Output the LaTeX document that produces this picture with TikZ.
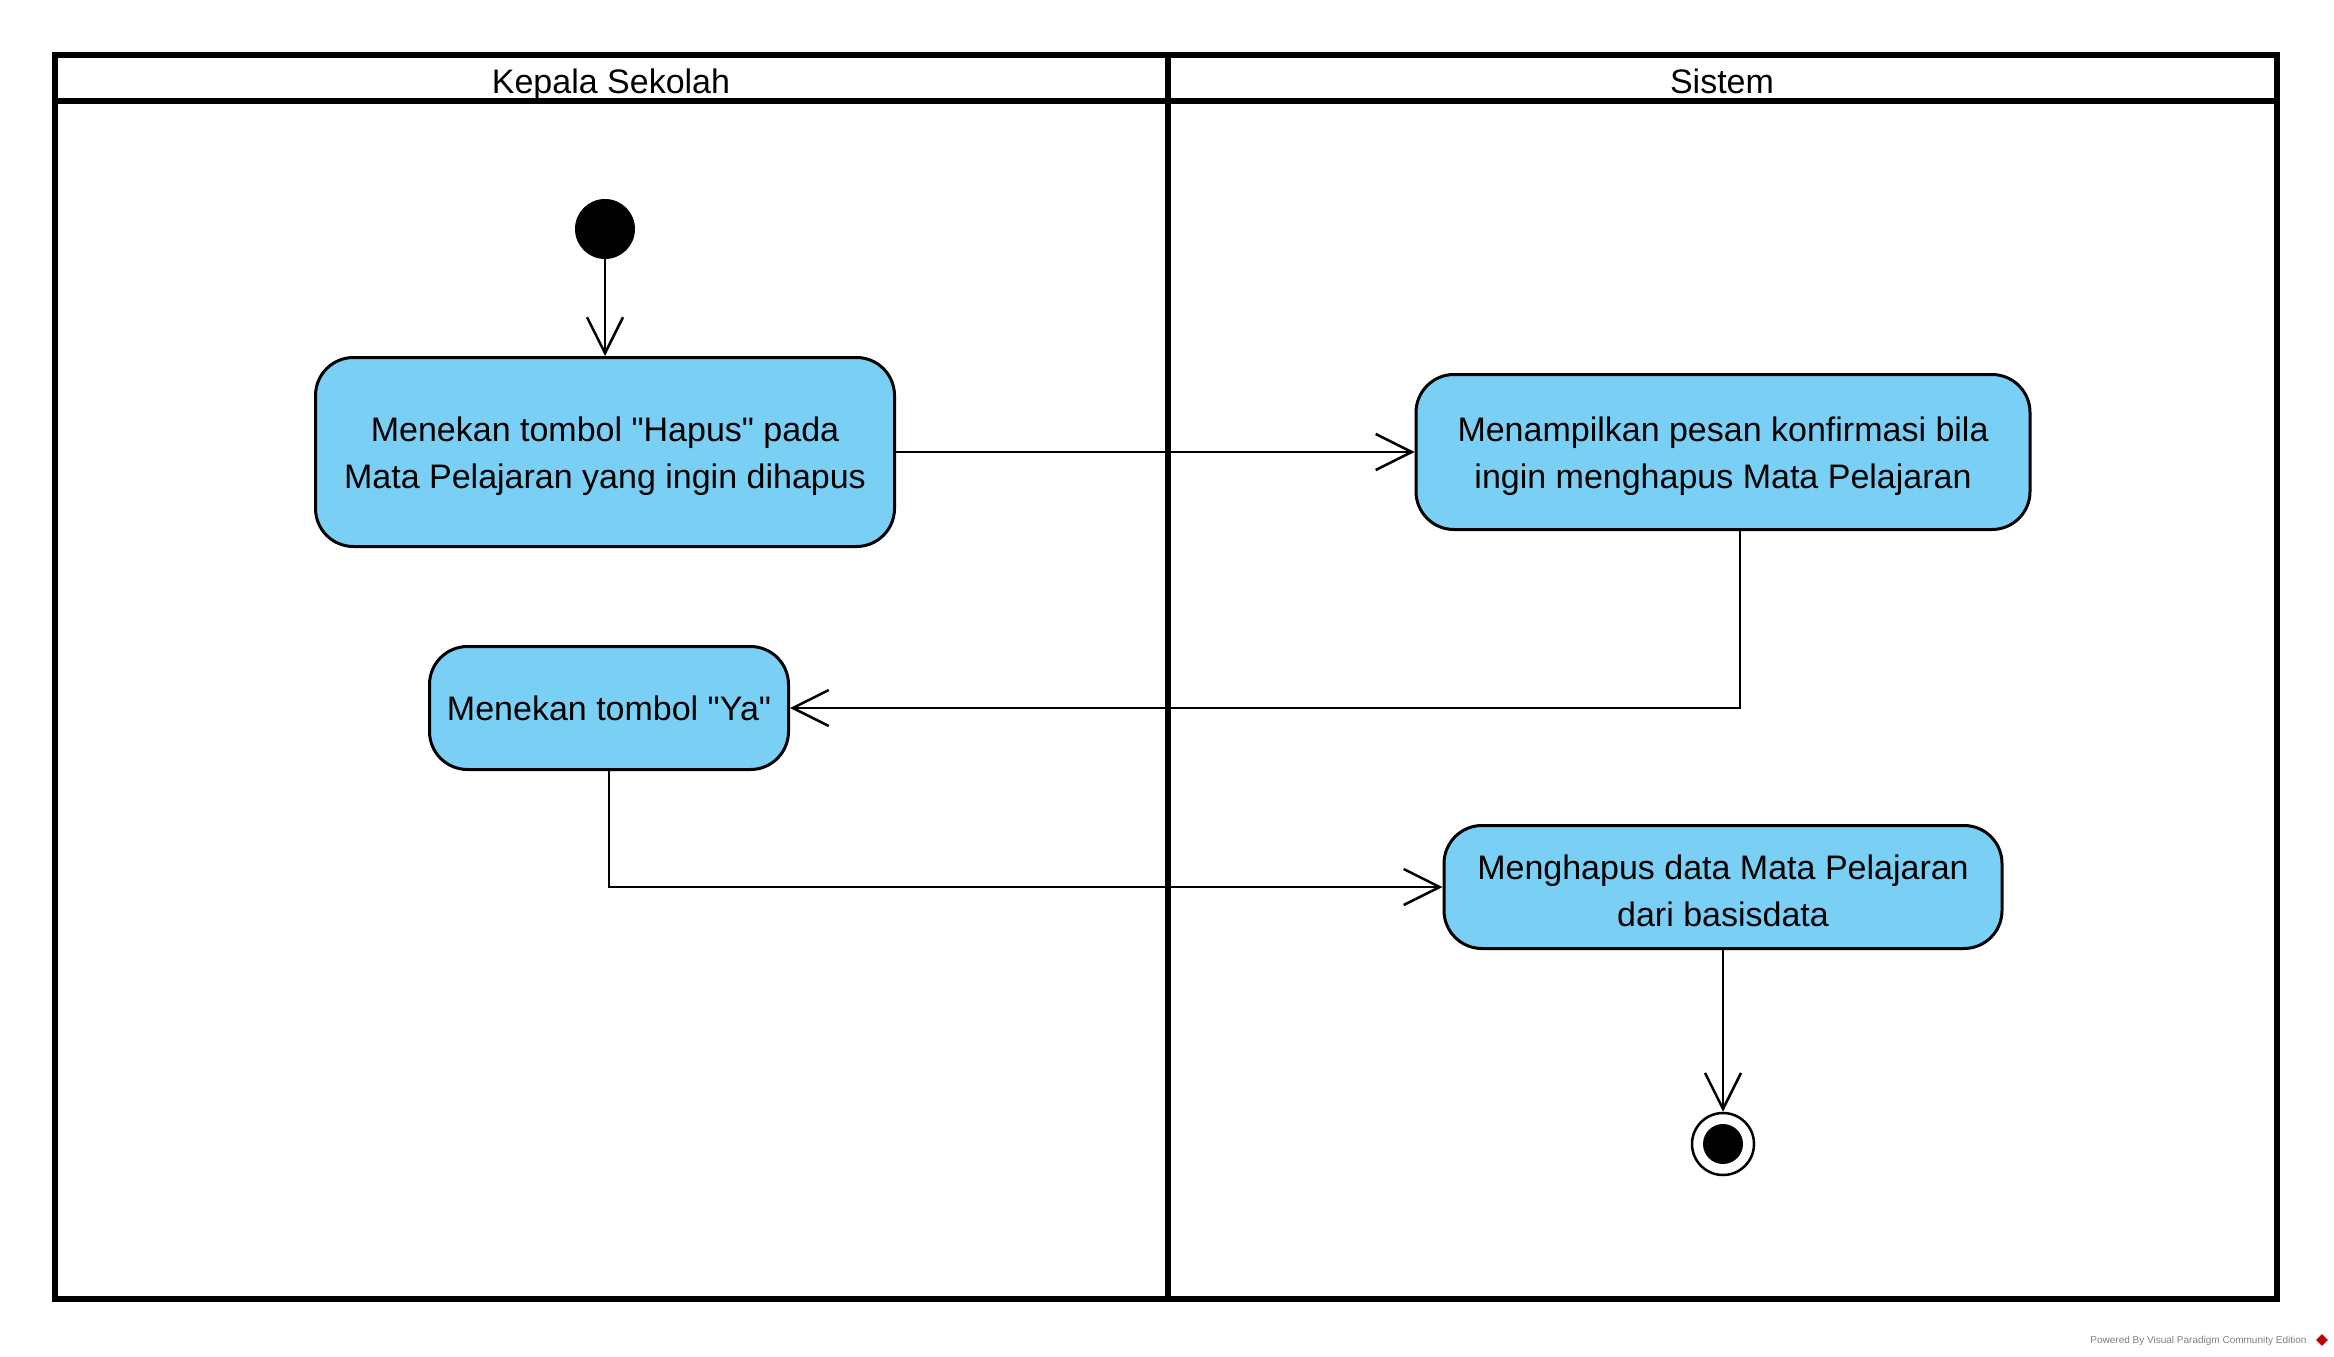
\documentclass[tikz,border=0pt]{standalone}
\usepackage{fontspec}
\setmainfont{Liberation Sans}[Ligatures=TeXOff]
\usetikzlibrary{arrows.meta,shapes.geometric}
\definecolor{actblue}{RGB}{122,207,245}

\begin{document}
\begin{tikzpicture}[x=1pt, y=-1pt,
		lane/.style={line width=6pt},
		action/.style={draw, line width=3pt, fill=actblue, rounded corners=38pt, align=center, inner sep=0pt, font=\fontsize{34}{47}\selectfont},
		flow/.style={line width=2.5pt, -{Straight Barb[length=36pt, width=36pt]}},
		lanetitle/.style={anchor=base, font=\fontsize{34}{41}\selectfont}]
		%%%%% START %%%%%
		\useasboundingbox (0, 0) rectangle (2334, 1357);
		
		\draw[lane] (55, 55) rectangle (2277, 1299);
		\draw[lane] (55, 101) -- (2277, 101);
		\draw[lane] (1168, 55) -- (1168, 1299);
		
		\node[lanetitle] (kepsek) at (611, 93) {Kepala Sekolah};
		\node[lanetitle] (sistem) at (1722, 93) {Sistem};
		
		\node[circle, fill=black, minimum size=60pt, inner sep=0pt] (start) at (605, 229) {};
		
		\node[action, minimum width=579pt, minimum height=189pt] (hapus) at (605, 452) {\strut Menekan tombol "Hapus" pada\\Mata Pelajaran yang ingin dihapus};
		\node[action, minimum width=614pt, minimum height=155pt] (konfirm) at (1723, 452) {\strut Menampilkan pesan konfirmasi bila\\ingin menghapus Mata Pelajaran};
		\node[action, minimum width=359pt, minimum height=123pt] (ya) at (609, 708) {Menekan tombol "Ya"};
		\node[action, minimum width=558pt, minimum height=123pt] (hapusdata) at (1723, 887) {\strut Menghapus data Mata Pelajaran\\dari basisdata};
		
		\node[circle, draw, line width=2.5pt, fill=white, minimum size=62pt, inner sep=0pt] (stop) at (1723, 1144) {};
		\node[circle, fill=black, minimum size=40pt, inner sep=0pt] (stopdot) at (stop.center) {};
		
		\draw[flow] (start) -- (hapus);
		\draw[flow] (hapus) -- (konfirm);
		\draw[flow] (konfirm.south) ++(17, 0) |- (ya.east);
		\draw[flow] (ya.south) |- (hapusdata.west);
		\draw[flow] (hapusdata) -- (stop);
		
		\node[anchor=east, text=black!50, font=\fontsize{10}{12}\selectfont] (credit) at (2310, 1341) {Powered By Visual Paradigm Community Edition};
		\node[diamond, fill=red!75!black, minimum size=12pt, inner sep=0pt] (vplogo) at (2322, 1340) {};
		
		%%%%% END %%%%%
	\end{tikzpicture}
\end{document}
